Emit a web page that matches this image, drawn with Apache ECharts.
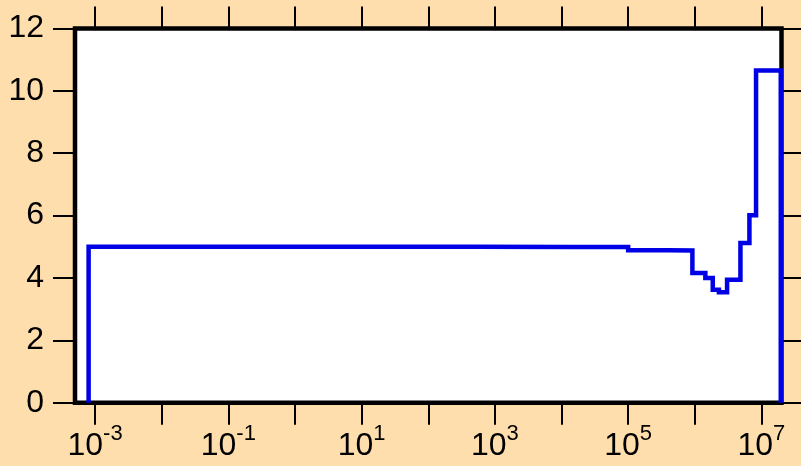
<!DOCTYPE html>
<html>
<head>
<meta charset="utf-8">
<script src="https://cdn.jsdelivr.net/npm/echarts@6/dist/echarts.min.js"></script>
<style>
  html, body { margin: 0; padding: 0; background: #FFDEAD; }
  #chart { width: 801px; height: 466px; }
</style>
</head>
<body>
<div id="chart"></div>
<script>
// Step edges (x on a log axis) and levels after each edge
const stepX = [8e-4, 8e-4, 5e2, 1.5e4, 1e5, 4e5, 9.2e5, 1.44e6, 1.86e6, 2.3e6, 3.05e6, 4.84e6, 6.6e6, 8.3e6, 1.95e7];
const stepY = [0, 5.00, 4.995, 4.99, 4.89, 4.88, 4.16, 4.00, 3.62, 3.54, 3.94, 5.12, 6.01, 10.65, 0];

// Axis ticks / labels
const xTickValues = [1e-3, 1e-2, 1e-1, 1e0, 1e1, 1e2, 1e3, 1e4, 1e5, 1e6, 1e7];
const xLabelValues = [1e-3, 1e-1, 1e1, 1e3, 1e5, 1e7];
const xMin = 5e-4, xMax = 2e7;
const yMin = 0, yMax = 12, yStep = 2;

const FONT = "'Liberation Sans', Arial, Helvetica, sans-serif";
const chart = echarts.init(document.getElementById('chart'), null, { renderer: 'canvas' });

const seriesData = stepX.map((x, i) => [x, stepY[i]]);

const tickStyle = { show: true, inside: false, length: 22, lineStyle: { color: '#000', width: 2 } };
const noLine = { show: false, onZero: false };

chart.setOption({
  backgroundColor: '#FFDEAD',
  animation: false,
  grid: {
    left: 75, right: 19.5, top: 28.5, bottom: 63.3,
    show: true, backgroundColor: '#ffffff', borderColor: '#000000', borderWidth: 4.5
  },
  xAxis: [
    {
      type: 'log', logBase: 10, min: xMin, max: xMax, position: 'bottom',
      axisLine: noLine,
      splitLine: { show: false },
      axisTick: Object.assign({}, tickStyle, { customValues: xTickValues }),
      axisLabel: {
        show: true, margin: 20, customValues: xLabelValues,
        fontFamily: FONT, color: '#000',
        formatter: function (v) {
          const e = Math.round(Math.log10(v));
          return '{b|10}{s|' + e + '}';
        },
        rich: {
          b: { fontSize: 32, fontFamily: FONT, color: '#000', lineHeight: 46 },
          s: { fontSize: 22, fontFamily: FONT, color: '#000', verticalAlign: 'top' }
        }
      }
    },
    {
      type: 'log', logBase: 10, min: xMin, max: xMax, position: 'top',
      axisLine: noLine,
      splitLine: { show: false },
      axisTick: Object.assign({}, tickStyle, { customValues: xTickValues }),
      axisLabel: { show: false }
    }
  ],
  yAxis: [
    {
      type: 'value', min: yMin, max: yMax, interval: yStep, position: 'left',
      axisLine: noLine,
      splitLine: { show: false },
      axisTick: tickStyle,
      axisLabel: { show: true, margin: 31, fontSize: 32, fontFamily: FONT, color: '#000' }
    },
    {
      type: 'value', min: yMin, max: yMax, interval: yStep, position: 'right',
      axisLine: noLine,
      splitLine: { show: false },
      axisTick: tickStyle,
      axisLabel: { show: false }
    }
  ],
  series: [
    {
      type: 'line', xAxisIndex: 0, yAxisIndex: 0,
      data: seriesData, step: 'end', showSymbol: false, symbol: 'none',
      lineStyle: { color: '#0000e6', width: 4.5, join: 'miter', cap: 'butt' },
      clip: false, z: 3
    }
  ]
});
</script>
</body>
</html>
